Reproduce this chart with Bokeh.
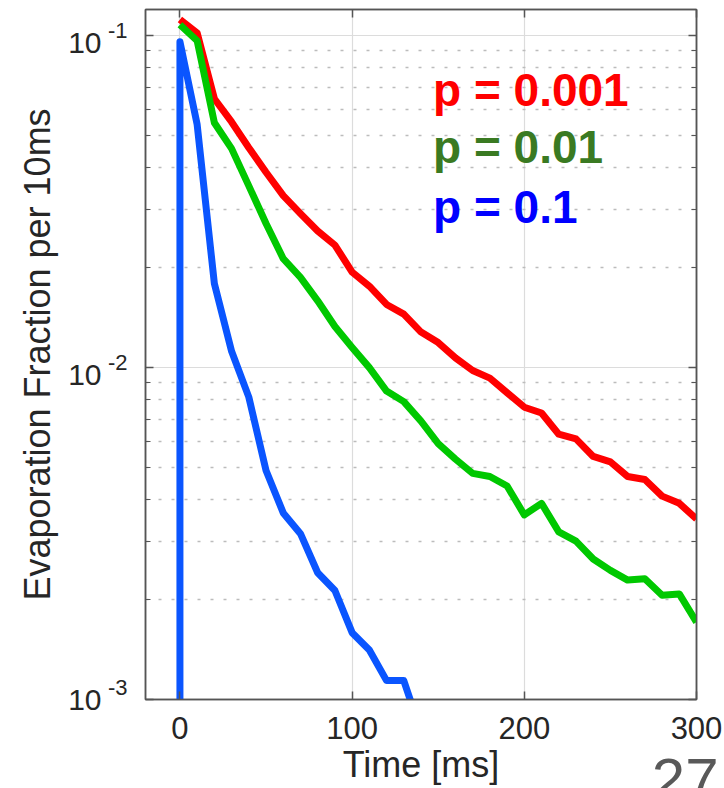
import math
from bokeh.plotting import figure
from bokeh.models import (Range1d, FixedTicker, LinearAxis, LogAxis, Label, Title,
                          CustomJSTickFormatter)
from bokeh.embed import file_html
from bokeh.resources import INLINE

# ---- data ----
time_ms = [0, 10, 20, 30, 40, 50, 60, 70, 80, 90, 100, 110, 120, 130, 140, 150,
           160, 170, 180, 190, 200, 210, 220, 230, 240, 250, 260, 270, 280, 290, 300]
frac_p0001 = [0.112, 0.102, 0.0646, 0.055, 0.046, 0.0388, 0.033, 0.0291, 0.0258, 0.0234,
              0.0194, 0.0176, 0.0155, 0.0145, 0.0128, 0.0119, 0.0107, 0.0098, 0.0093, 0.0084,
              0.0076, 0.0073, 0.0063, 0.0061, 0.0054, 0.0052, 0.0047, 0.0046, 0.0041, 0.0039,
              0.0035]
frac_p001 = [0.108, 0.0966, 0.0547, 0.0457, 0.0353, 0.0272, 0.0213, 0.0187, 0.0159, 0.0133,
             0.0115, 0.0100, 0.0085, 0.0079, 0.0069, 0.0059, 0.0053, 0.0048, 0.0047, 0.0044,
             0.0036, 0.0039, 0.0032, 0.0030, 0.00265, 0.00245, 0.00229, 0.00231, 0.00206,
             0.00208, 0.00171]
time_p01 = [0, 0, 10, 20, 30, 40, 50, 60, 70, 80, 90, 100, 110, 120, 130, 140]
frac_p01 = [0.00001, 0.096, 0.054, 0.0179, 0.0112, 0.00815, 0.0049, 0.00365, 0.00316,
            0.00241, 0.00213, 0.00159, 0.00141, 0.00114, 0.00114, 0.0008]

series_labels = ["p = 0.001", "p = 0.01", "p = 0.1"]
x_ticks = [0, 100, 200, 300]
y_ticks = [0.001, 0.01, 0.1]
y_tick_base = ["10", "10", "10"]
y_tick_exp = ["-3", "-2", "-1"]
y_minor = [0.002, 0.003, 0.004, 0.005, 0.006, 0.007, 0.008, 0.009,
           0.02, 0.03, 0.04, 0.05, 0.06, 0.07, 0.08, 0.09]
page_number = "27"

FONT = "Liberation Sans"
AX = "#555555"
TXT = "#262626"

Y_LO, Y_HI = 0.001, 0.12
FRAME_H = 690
PX_PER_DEC = FRAME_H / math.log10(Y_HI / Y_LO)

# screen-pixel offsets (positive = up) of the two parts of each "10^n" tick label
BASE_SHIFT = [0, -7, -7]   # lowest one cannot go below the frame
EXP_SHIFT = [12, 5, 5]


def shifted(ticks, shifts):
    """label anchor positions moved by the given screen pixels"""
    return [t * 10 ** (s / PX_PER_DEC) for t, s in zip(ticks, shifts)]


p = figure(width=724, height=788,
           x_range=Range1d(-20, 300), y_range=Range1d(Y_LO, Y_HI),
           y_axis_type="log", output_backend="svg", toolbar_location=None,
           min_border_left=145, min_border_right=28, min_border_top=9,
           min_border_bottom=89, background_fill_color="white",
           border_fill_color="white")

p.outline_line_color = AX
p.outline_line_width = 1.5

# grid
p.xgrid[0].ticker = FixedTicker(ticks=x_ticks)
p.xgrid.grid_line_color = "#dcdcdc"
p.xgrid.grid_line_width = 1.2
p.ygrid[0].ticker = FixedTicker(ticks=y_ticks, minor_ticks=y_minor)
p.ygrid.grid_line_color = "#dcdcdc"
p.ygrid.grid_line_width = 1.2
p.ygrid.minor_grid_line_color = "#bcbcbc"
p.ygrid.minor_grid_line_width = 1.5
p.ygrid.minor_grid_line_dash = "3 10"

# bottom axis
xa = p.xaxis[0]
xa.ticker = FixedTicker(ticks=x_ticks)
xa.major_tick_in = 8
xa.major_tick_out = 0
xa.minor_tick_in = 0
xa.minor_tick_out = 0
xa.axis_line_color = AX
xa.axis_line_width = 1.5
xa.major_tick_line_color = AX
xa.major_tick_line_width = 1.5
xa.major_label_text_font = FONT
xa.major_label_text_font_size = "31px"
xa.major_label_text_color = TXT
xa.major_label_standoff = 17
xa.axis_label = "Time [ms]"
xa.axis_label_text_font = FONT
xa.axis_label_text_font_size = "36px"
xa.axis_label_text_font_style = "normal"
xa.axis_label_text_color = TXT
xa.axis_label_standoff = 2

# left axis: line and ticks only
ya = p.yaxis[0]
ya.ticker = FixedTicker(ticks=y_ticks, minor_ticks=y_minor)
ya.formatter = CustomJSTickFormatter(code="return ''")
ya.major_tick_in = 8
ya.major_tick_out = 0
ya.minor_tick_in = 5
ya.minor_tick_out = 0
ya.axis_line_color = AX
ya.axis_line_width = 1.5
ya.major_tick_line_color = AX
ya.major_tick_line_width = 1.5
ya.minor_tick_line_color = AX
ya.minor_tick_line_width = 1.2
ya.major_label_standoff = 0

# exponent part of the tick labels (raised a little, like a superscript)
ya_exp = LogAxis(ticker=FixedTicker(ticks=shifted(y_ticks, EXP_SHIFT)),
                 formatter=CustomJSTickFormatter(args=dict(tl=y_tick_exp), code="return tl[index]"),
                 axis_line_color=None, major_tick_line_color=None, minor_tick_line_color=None,
                 major_tick_in=0, major_tick_out=0, minor_tick_in=0, minor_tick_out=0,
                 major_label_standoff=18, major_label_text_font=FONT,
                 major_label_text_font_size="22px", major_label_text_color=TXT)
p.add_layout(ya_exp, "left")

# base "10" of the tick labels + axis title
ya_base = LogAxis(ticker=FixedTicker(ticks=shifted(y_ticks, BASE_SHIFT)),
                  formatter=CustomJSTickFormatter(args=dict(tl=y_tick_base), code="return tl[index]"),
                  axis_line_color=None, major_tick_line_color=None, minor_tick_line_color=None,
                  major_tick_in=0, major_tick_out=0, minor_tick_in=0, minor_tick_out=0,
                  major_label_standoff=3, major_label_text_font=FONT,
                  major_label_text_font_size="30px", major_label_text_color=TXT,
                  axis_label="Evaporation Fraction per 10ms", axis_label_text_font=FONT,
                  axis_label_text_font_size="36px", axis_label_text_font_style="normal",
                  axis_label_text_color=TXT, axis_label_standoff=7)
p.add_layout(ya_base, "left")

# box axes (top and right)
top = LinearAxis(ticker=FixedTicker(ticks=x_ticks),
                 formatter=CustomJSTickFormatter(code="return ''"),
                 major_tick_in=8, major_tick_out=0, minor_tick_in=0, minor_tick_out=0,
                 axis_line_color=AX, axis_line_width=1.5,
                 major_tick_line_color=AX, major_tick_line_width=1.5,
                 major_label_standoff=0)
p.add_layout(top, "above")
right = LogAxis(ticker=FixedTicker(ticks=y_ticks, minor_ticks=y_minor),
                formatter=CustomJSTickFormatter(code="return ''"),
                major_tick_in=8, major_tick_out=0, minor_tick_in=5, minor_tick_out=0,
                axis_line_color=AX, axis_line_width=1.5,
                major_tick_line_color=AX, major_tick_line_width=1.5,
                minor_tick_line_color=AX, minor_tick_line_width=1.2,
                major_label_standoff=0)
p.add_layout(right, "right")

# lines
p.line(time_ms, frac_p0001, line_color="#ff0000", line_width=7, line_join="round")
p.line(time_ms, frac_p001, line_color="#00c800", line_width=7, line_join="round")
p.line(time_p01, frac_p01, line_color="#0a55ff", line_width=7, line_join="round")

# series annotations
label_colors = ["#ff0000", "#3a7a22", "#0000ff"]
label_y = [0.0687, 0.0462, 0.03055]
for t, c, yy in zip(series_labels, label_colors, label_y):
    p.add_layout(Label(x=147, y=yy, text=t, text_color=c, text_font=FONT,
                       text_font_style="bold", text_font_size="46px",
                       text_baseline="alphabetic", text_align="left"))

# slide page number (partially cut off at the bottom edge)
pg = Title(text=page_number, align="right", vertical_align="top",
           text_font=FONT, text_font_size="60px", text_font_style="normal",
           text_color="#595959", standoff=-58, offset=-22)
p.add_layout(pg, "below")

open("out.html", "w").write(file_html(p, INLINE))
